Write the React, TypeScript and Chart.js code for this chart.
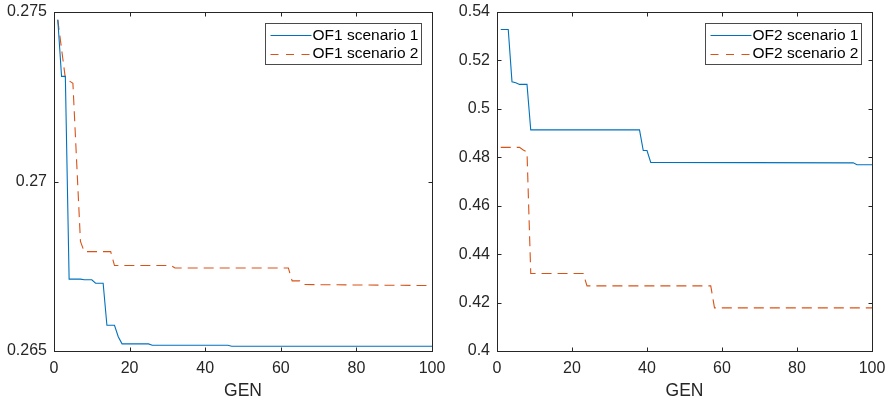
import React, { useEffect, useRef } from "react";
import { Chart, registerables } from "chart.js";

Chart.register(...registerables);

// ---- tick values and labels ----
const genTicks = [0, 20, 40, 60, 80, 100];
const genTickLabels = ["0", "20", "40", "60", "80", "100"];
const of1Ticks = [0.265, 0.27, 0.275];
const of1TickLabels = ["0.265", "0.27", "0.275"];
const of2Ticks = [0.4, 0.42, 0.44, 0.46, 0.48, 0.5, 0.52, 0.54];
const of2TickLabels = ["0.4", "0.42", "0.44", "0.46", "0.48", "0.5", "0.52", "0.54"];

// ---- OF1 (left) ----
const of1S1Gen = [1, 2, 3, 4, 7, 8, 10, 11, 13, 14, 16, 17, 18, 25, 26, 46, 47, 100];
const of1S1Val = [
  0.27477, 0.2731, 0.2731, 0.26712, 0.26712, 0.2671, 0.2671, 0.267, 0.267, 0.26576,
  0.26576, 0.26542, 0.26521, 0.26521, 0.26517, 0.26517, 0.26514, 0.26514,
];
const of1S2Gen = [1, 3, 4, 5, 7, 8, 15, 16, 31, 32, 62, 63, 65, 66, 100];
const of1S2Val = [
  0.27477, 0.27305, 0.27297, 0.2729, 0.26823, 0.26793, 0.26793, 0.26752, 0.26752,
  0.26745, 0.26745, 0.26707, 0.26707, 0.26696, 0.26693,
];

// ---- OF2 (right) ----
const of2S1Gen = [1, 3, 4, 5, 6, 8, 9, 38, 39, 40, 41, 95, 96, 100];
const of2S1Val = [
  0.5328, 0.5328, 0.5112, 0.5108, 0.5101, 0.5101, 0.4913, 0.4913, 0.4828, 0.4828,
  0.4779, 0.4777, 0.4769, 0.4769,
];
const of2S2Gen = [1, 6, 7, 8, 9, 23, 24, 57, 58, 100];
const of2S2Val = [0.4841, 0.4841, 0.483, 0.4822, 0.432, 0.432, 0.4269, 0.4269, 0.4178, 0.4178];

const BLUE = "#0072BD";
const ORANGE = "#D95319";
const AXIS = "#262626";
const FONT = '"Liberation Sans", Arial, Helvetica, sans-serif';
const W = 887;
const H = 402;

type Item = { label: string; color: string; dash: number[] };

function framePlugin(items: Item[]) {
  return {
    id: "frameLegend",
    afterDatasetsDraw(chart: any) {
      const { ctx, chartArea } = chart;
      const { left, right, top, bottom } = chartArea;
      const xs = chart.scales.x;
      const ys = chart.scales.y;
      ctx.save();
      ctx.strokeStyle = AXIS;
      ctx.lineWidth = 1;
      ctx.setLineDash([]);
      ctx.strokeRect(left + 0.5, top + 0.5, right - left, bottom - top);
      const tl = 4;
      ctx.beginPath();
      xs.ticks.forEach((t: any) => {
        const px = Math.round(xs.getPixelForValue(t.value)) + 0.5;
        ctx.moveTo(px, bottom + 0.5);
        ctx.lineTo(px, bottom + 0.5 - tl);
        ctx.moveTo(px, top + 0.5);
        ctx.lineTo(px, top + 0.5 + tl);
      });
      ys.ticks.forEach((t: any) => {
        const py = Math.round(ys.getPixelForValue(t.value)) + 0.5;
        ctx.moveTo(left + 0.5, py);
        ctx.lineTo(left + 0.5 + tl, py);
        ctx.moveTo(right + 0.5, py);
        ctx.lineTo(right + 0.5 - tl, py);
      });
      ctx.stroke();
      ctx.restore();
    },
    afterDraw(chart: any) {
      const { ctx, chartArea } = chart;
      ctx.save();
      ctx.font = `15.5px ${FONT}`;
      let maxW = 0;
      items.forEach((it) => {
        maxW = Math.max(maxW, ctx.measureText(it.label).width);
      });
      const w = Math.round(47 + maxW + 3);
      const h = 41;
      const bx = Math.round(chartArea.right - 11 - w) + 0.5;
      const by = Math.round(chartArea.top) + 11 + 0.5;
      ctx.fillStyle = "#ffffff";
      ctx.fillRect(bx, by, w, h);
      ctx.strokeStyle = "#4a4a4a";
      ctx.lineWidth = 1;
      ctx.setLineDash([]);
      ctx.strokeRect(bx, by, w, h);
      items.forEach((it, i) => {
        const cy = by + 11.5 + i * 18.5;
        ctx.strokeStyle = it.color;
        ctx.lineWidth = 1;
        ctx.setLineDash(it.dash.length ? [8, 7.5] : []);
        ctx.beginPath();
        ctx.moveTo(bx + 5, Math.round(cy) + 0.5);
        ctx.lineTo(bx + 46, Math.round(cy) + 0.5);
        ctx.stroke();
        ctx.setLineDash([]);
        ctx.fillStyle = "#000000";
        ctx.textAlign = "left";
        ctx.textBaseline = "middle";
        ctx.fillText(it.label, bx + 47, cy + 0.5);
      });
      ctx.restore();
    },
  };
}

function toPoints(gens: number[], vals: number[]) {
  return gens.map((g, i) => ({ x: g, y: vals[i] }));
}

type Cfg = {
  s1: { x: number; y: number }[];
  s2: { x: number; y: number }[];
  labels: [string, string];
  yMin: number;
  yMax: number;
  yTicks: number[];
  yTickLabels: string[];
  padLeft: number;
  padRight: number;
};

function makeConfig(c: Cfg): any {
  const items: Item[] = [
    { label: c.labels[0], color: BLUE, dash: [] },
    { label: c.labels[1], color: ORANGE, dash: [10, 6] },
  ];
  return {
    type: "line",
    data: {
      datasets: [
        {
          label: c.labels[0],
          data: c.s1,
          borderColor: BLUE,
          borderWidth: 1.1,
          pointRadius: 0,
          tension: 0,
          fill: false,
        },
        {
          label: c.labels[1],
          data: c.s2,
          borderColor: ORANGE,
          borderWidth: 1.1,
          borderDash: [10, 6],
          pointRadius: 0,
          tension: 0,
          fill: false,
        },
      ],
    },
    options: {
      animation: false,
      responsive: false,
      devicePixelRatio: 1,
      layout: {
        autoPadding: false,
        padding: { left: c.padLeft, right: c.padRight, top: 12, bottom: 0 },
      },
      plugins: {
        legend: { display: false },
        tooltip: { enabled: false },
      },
      scales: {
        x: {
          type: "linear",
          min: 0,
          max: 100,
          grid: { display: false, drawTicks: false },
          border: { display: false },
          afterBuildTicks: (s: any) => {
            s.ticks = genTicks.map((v) => ({ value: v }));
          },
          afterFit: (s: any) => {
            s.height = 51;
            s.paddingLeft = 0;
            s.paddingRight = 0;
          },
          ticks: {
            padding: 8,
            maxRotation: 0,
            autoSkip: false,
            color: AXIS,
            font: { family: FONT, size: 16 },
            callback: (_v: any, i: number) => genTickLabels[i],
          },
          title: {
            display: true,
            text: "GEN",
            color: AXIS,
            font: { family: FONT, size: 17.5 },
            padding: { top: 0, bottom: 0 },
          },
        },
        y: {
          type: "linear",
          min: c.yMin,
          max: c.yMax,
          grid: { display: false, drawTicks: false },
          border: { display: false },
          afterBuildTicks: (s: any) => {
            s.ticks = c.yTicks.map((v) => ({ value: v }));
          },
          afterFit: (s: any) => {
            s.width = 54;
            s.paddingTop = 0;
            s.paddingBottom = 0;
          },
          ticks: {
            padding: 7,
            autoSkip: false,
            color: AXIS,
            font: { family: FONT, size: 16 },
            callback: (_v: any, i: number) => c.yTickLabels[i],
          },
        },
      },
    },
    plugins: [framePlugin(items)],
  };
}

function ChartCanvas({ cfg }: { cfg: Cfg }) {
  const ref = useRef<HTMLCanvasElement | null>(null);
  useEffect(() => {
    if (!ref.current) return;
    const chart = new Chart(ref.current, makeConfig(cfg));
    return () => chart.destroy();
  }, []);
  return (
    <canvas
      ref={ref}
      width={W}
      height={H}
      style={{ position: "absolute", left: 0, top: 0, width: W, height: H, display: "block" }}
    />
  );
}

export default function App() {
  const left: Cfg = {
    s1: toPoints(of1S1Gen, of1S1Val),
    s2: toPoints(of1S2Gen, of1S2Val),
    labels: ["OF1 scenario 1", "OF1 scenario 2"],
    yMin: 0.265,
    yMax: 0.275,
    yTicks: of1Ticks,
    yTickLabels: of1TickLabels,
    padLeft: 0,
    padRight: W - 432,
  };
  const right: Cfg = {
    s1: toPoints(of2S1Gen, of2S1Val),
    s2: toPoints(of2S2Gen, of2S2Val),
    labels: ["OF2 scenario 1", "OF2 scenario 2"],
    yMin: 0.4,
    yMax: 0.54,
    yTicks: of2Ticks,
    yTickLabels: of2TickLabels,
    padLeft: 443,
    padRight: W - 872,
  };
  return (
    <div
      style={{
        position: "absolute",
        left: 0,
        top: 0,
        width: W,
        height: H,
        background: "#ffffff",
        overflow: "hidden",
      }}
    >
      <ChartCanvas cfg={left} />
      <ChartCanvas cfg={right} />
    </div>
  );
}
